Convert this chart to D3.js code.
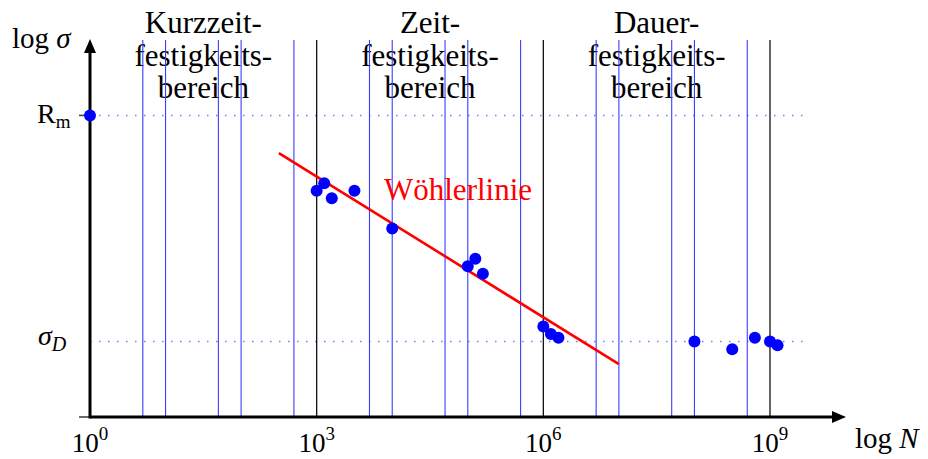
<!DOCTYPE html>
<html><head><meta charset="utf-8">
<script src="https://cdn.jsdelivr.net/npm/d3@7"></script>
<style>body{margin:0;background:#fff}svg{display:block}text{font-family:"Liberation Serif","Times New Roman",serif}</style>
</head><body>
<svg id="c" width="928" height="459"></svg>
<script>
// Data (x = log10 N, y = log sigma in arbitrary units)
const pointsX = [0, 3, 3.1, 3.2, 3.5, 4, 5, 5.1, 5.2, 6, 6.1, 6.2, 8, 8.5, 8.8, 9, 9.1];
const pointsY = [8, 6, 6.2, 5.8, 6, 5, 4, 4.2, 3.8, 2.4, 2.2, 2.1, 2, 1.8, 2.1, 2, 1.9];
const lineX = [2.5, 7];
const lineY = [7, 1.4];
const blueGridX = [Math.log10(5), 1, Math.log10(50), 2, Math.log10(500), Math.log10(5000), 4, Math.log10(5e4), 5,
                   Math.log10(5e5), Math.log10(5e6), 7, Math.log10(5e7), 8, Math.log10(5e8)];
const blackGridX = [3, 6, 9];
const tickExps = [0, 3, 6, 9];
const levelNames = ["R", "σ"];
const levelValues = [8, 2];
const regionCenters = [1.5, 4.5, 7.5];
const regionLabels = [["Kurzzeit-", "festigkeits-", "bereich"], ["Zeit-", "festigkeits-", "bereich"], ["Dauer-", "festigkeits-", "bereich"]];

const svg = d3.select("#c");
const x = d3.scaleLinear().domain([0, 9]).range([90, 770]);
const y = d3.scaleLinear().domain([0, 10]).range([417, 40]);

// region labels
regionLabels.forEach((lines, i) => {
  const t = svg.append("text").attr("x", x(regionCenters[i])).attr("text-anchor", "middle")
    .attr("font-size", 31).attr("fill", "#000");
  lines.forEach((l, j) => t.append("tspan").attr("x", x(regionCenters[i])).attr("y", 33 + j * 32.5).text(l));
});

// dotted level lines
svg.selectAll("line.lvl").data(levelValues).join("line")
  .attr("x1", x(0)).attr("x2", 803).attr("y1", d => y(d)).attr("y2", d => y(d))
  .attr("stroke", "#7a7aff").attr("stroke-width", 1.5).attr("stroke-dasharray", "1.5,7.5");

// vertical grid lines
svg.selectAll("line.bg").data(blueGridX).join("line")
  .attr("x1", d => x(d)).attr("x2", d => x(d)).attr("y1", y(10)).attr("y2", y(0))
  .attr("stroke", "#3c3cff").attr("stroke-width", 1.1);
svg.selectAll("line.kg").data(blackGridX).join("line")
  .attr("x1", d => x(d)).attr("x2", d => x(d)).attr("y1", y(10)).attr("y2", y(0))
  .attr("stroke", "#111").attr("stroke-width", 1.3);

// small ticks on y axis
[0, levelValues[0]].forEach(v => {
  svg.append("line").attr("x1", x(0) - 11).attr("x2", x(0)).attr("y1", y(v)).attr("y2", y(v))
    .attr("stroke", "#444").attr("stroke-width", 1.6);
});

// axes
svg.append("line").attr("x1", x(0)).attr("x2", 834).attr("y1", y(0)).attr("y2", y(0)).attr("stroke", "#000").attr("stroke-width", 3);
svg.append("path").attr("d", `M846,${y(0)} L832,${y(0) - 6} L832,${y(0) + 6} Z`).attr("fill", "#000");
svg.append("line").attr("x1", x(0)).attr("x2", x(0)).attr("y1", y(0) + 1.5).attr("y2", 50).attr("stroke", "#000").attr("stroke-width", 3);
svg.append("path").attr("d", `M${x(0)},39 L${x(0) - 6},53 L${x(0) + 6},53 Z`).attr("fill", "#000");

// Wöhler line
svg.append("line").attr("x1", x(lineX[0])).attr("y1", y(lineY[0])).attr("x2", x(lineX[1])).attr("y2", y(lineY[1]))
  .attr("stroke", "#ff0000").attr("stroke-width", 2.6);
svg.append("text").attr("x", 384).attr("y", 200).attr("font-size", 31).attr("fill", "#ff0000").text("Wöhlerlinie");

// points
svg.selectAll("circle.p").data(pointsX.map((d, i) => [d, pointsY[i]])).join("circle")
  .attr("cx", d => x(d[0])).attr("cy", d => y(d[1])).attr("r", 6).attr("fill", "#0000ff");

// x tick labels
tickExps.forEach(e => {
  const t = svg.append("text").attr("x", x(e)).attr("y", 452).attr("text-anchor", "middle").attr("font-size", 27);
  t.append("tspan").text("10");
  t.append("tspan").attr("font-size", 19).attr("dy", -12).text(e);
});

// y level labels
const rm = svg.append("text").attr("x", 37).attr("y", y(levelValues[0]) + 8).attr("font-size", 28);
rm.append("tspan").text(levelNames[0]);
rm.append("tspan").attr("font-size", 19).attr("dy", 5).text("m");
const sd = svg.append("text").attr("x", 38).attr("y", y(levelValues[1]) + 3).attr("font-size", 28);
sd.append("tspan").attr("font-style", "italic").text(levelNames[1]);
sd.append("tspan").attr("font-size", 20).attr("font-style", "italic").attr("dy", 6).text("D");

// axis titles
const ly = svg.append("text").attr("x", 12).attr("y", 48).attr("font-size", 29);
ly.append("tspan").text("log ");
ly.append("tspan").attr("font-style", "italic").text("σ");
const lx = svg.append("text").attr("x", 855).attr("y", 448).attr("font-size", 29);
lx.append("tspan").text("log ");
lx.append("tspan").attr("font-style", "italic").text("N");
</script>
</body></html>
